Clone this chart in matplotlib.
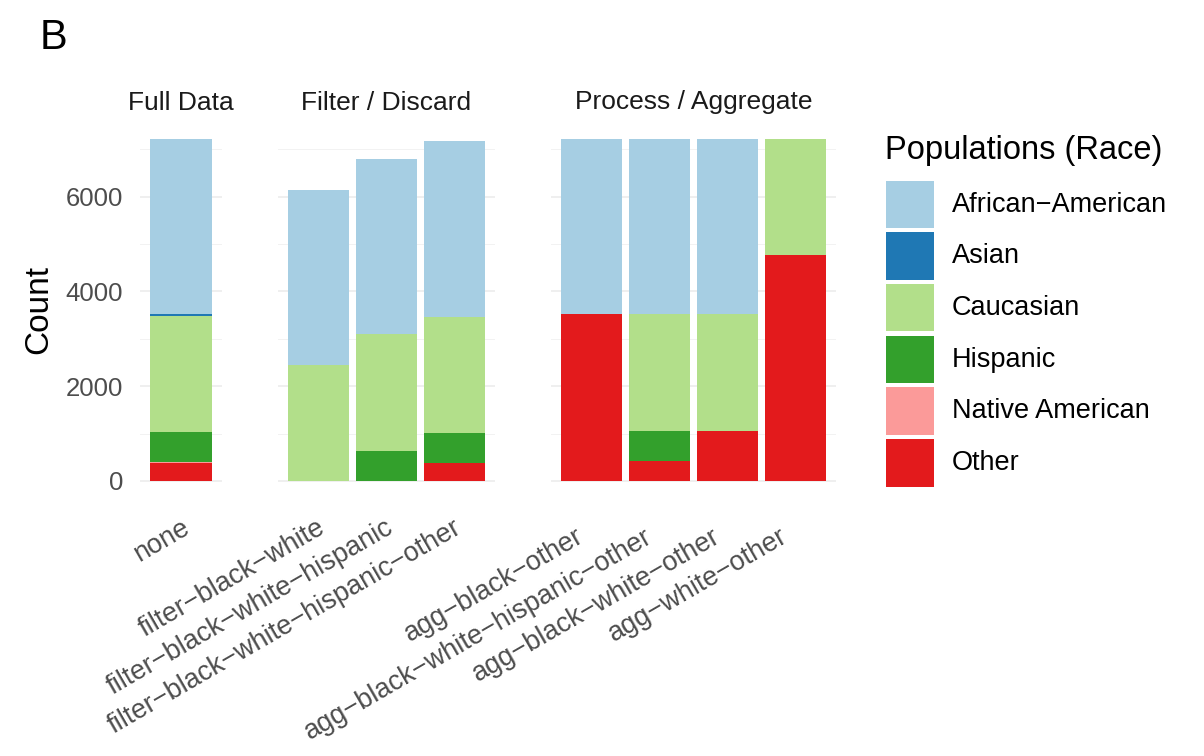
import numpy as np
import matplotlib
matplotlib.use("Agg")
import matplotlib.pyplot as plt
from matplotlib.patches import Rectangle
import matplotlib.transforms as mtransforms

plt.rcParams['font.family'] = ['Liberation Sans', 'DejaVu Sans']

W, H = 1204, 756

methods = ["none",
           "filter-black-white", "filter-black-white-hispanic", "filter-black-white-hispanic-other",
           "agg-black-other", "agg-black-white-hispanic-other", "agg-black-white-other", "agg-white-other"]
facets = ["Full Data", "Filter / Discard", "Process / Aggregate"]
facet_of = [0, 1, 1, 1, 2, 2, 2, 2]

races = ["African-American", "Asian", "Caucasian", "Hispanic", "Native American", "Other"]
colors = ["#A6CEE3", "#1F78B4", "#B2DF8A", "#33A02C", "#FB9A99", "#E31A1C"]

african_american = [3696, 3696, 3696, 3696, 3696, 3696, 3696, 0]
asian = [32, 0, 0, 0, 0, 0, 0, 0]
caucasian = [2454, 2454, 2454, 2454, 0, 2454, 2454, 2454]
hispanic = [637, 0, 637, 637, 0, 637, 0, 0]
native_american = [18, 0, 0, 0, 0, 0, 0, 0]
other = [377, 0, 0, 377, 3518, 427, 1064, 4760]

counts = np.array([african_american, asian, caucasian, hispanic, native_american, other], dtype=float)

ymin, ymax = -360, 7575


def r_dash(s):
    # the R graphics device draws "-" as a minus sign
    return s.replace("-", "\u2212")


def px_axes(fig, x0, x1, y0, y1):
    return fig.add_axes([x0 / W, 1 - y1 / H, (x1 - x0) / W, (y1 - y0) / H])


fig = plt.figure(figsize=(W / 100, H / 100), dpi=100)
fig.patch.set_facecolor("white")

panel_px = [(140, 222), (277.7, 495.3), (550.7, 836.3)]
label_shift = [(0, 0), (-2, 0), (-16, -9)]

for f, (x0, x1) in enumerate(panel_px):
    ax = px_axes(fig, x0, x1, 122, 498)
    idx = [i for i, g in enumerate(facet_of) if g == f]
    n = len(idx)
    xs = np.arange(n)
    bottom = np.zeros(n)
    # ggplot stacks the first level on top, so draw from the last level up
    for r in range(len(races) - 1, -1, -1):
        vals = counts[r, idx]
        ax.bar(xs, vals, bottom=bottom, width=0.9, color=colors[r], linewidth=0, zorder=2)
        bottom += vals
    ax.set_xlim(-0.6, n - 0.4)
    ax.set_ylim(ymin, ymax)
    for s in ax.spines.values():
        s.set_visible(False)
    ax.set_yticks([0, 2000, 4000, 6000])
    ax.set_yticks([1000, 3000, 5000, 7000], minor=True)
    ax.grid(axis="y", which="major", color="#EBEBEB", linewidth=1.1, zorder=0)
    ax.grid(axis="y", which="minor", color="#F2F2F2", linewidth=0.7, zorder=0)
    ax.tick_params(axis="both", which="both", length=0)
    ax.set_xticks(xs)
    ax.set_xticklabels([r_dash(methods[i]) for i in idx], rotation=30, ha="right", va="top",
                       rotation_mode="anchor", fontsize=19.5, color="#4D4D4D")
    ax.tick_params(axis="x", pad=12)
    dx, dy = label_shift[f]
    shift = mtransforms.ScaledTranslation(dx / 100, dy / 100, fig.dpi_scale_trans)
    for lab in ax.get_xticklabels():
        lab.set_transform(lab.get_transform() + shift)
    if f == 0:
        ax.set_yticklabels(["0", "2000", "4000", "6000"], fontsize=18.5, color="#4D4D4D")
        ax.tick_params(axis="y", pad=12)
        ax.set_ylabel("Count", fontsize=24, color="black", labelpad=8)
    else:
        ax.set_yticklabels([])
    ax.set_title(facets[f], fontsize=19, color="#1A1A1A", pad=9)

fig.text(40 / W, 1 - 38 / H, "B", fontsize=30, color="black", va="center", ha="left")

# legend
leg = px_axes(fig, 870, 1200, 120, 500)
leg.set_xlim(870, 1200)
leg.set_ylim(500, 120)
leg.axis("off")
leg.text(885, 151, "Populations (Race)", fontsize=23.5, va="center", ha="left", color="black")
key_top = 180.5
step = 51.7
for i, (name, c) in enumerate(zip(races, colors)):
    y = key_top + i * step
    leg.add_patch(Rectangle((886, y), 48, 47.5, facecolor=c, edgecolor="none"))
    leg.text(952, y + 24, r_dash(name), fontsize=19.5, va="center", ha="left", color="black")

fig.savefig("out.png", dpi=100, facecolor="white")
